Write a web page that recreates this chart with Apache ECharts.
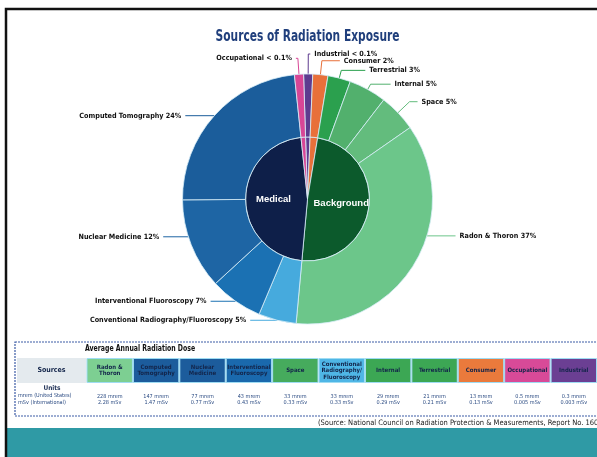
<!DOCTYPE html>
<html>
<head>
<meta charset="utf-8">
<title>Sources of Radiation Exposure</title>
<script src="https://cdn.jsdelivr.net/npm/echarts@6/dist/echarts.min.js"></script>
<style>
html, body { margin: 0; padding: 0; background: #fff; }
#chart { width: 597px; height: 457px; }
</style>
</head>
<body>
<div id="chart"></div>
<script>
// outer ring, clockwise from the top
var outerNames = ['Industrial', 'Consumer', 'Terrestrial', 'Internal', 'Space', 'Radon & Thoron',
  'Conventional Radiography/Fluoroscopy', 'Interventional Fluoroscopy', 'Nuclear Medicine',
  'Computed Tomography', 'Occupational'];
var outerShares = [1.2, 2, 3, 5, 5, 37, 5, 7, 12, 24, 1.2];
var outerPctText = ['< 0.1%', '2%', '3%', '5%', '5%', '37%', '5%', '7%', '12%', '24%', '< 0.1%'];

// inner circle
var innerNames = ['Industrial', 'Consumer', 'Background', 'Medical', 'Occupational'];
var innerShares = [1.2, 2, 50, 48, 1.2];

// dose table
var doseSources = ['Radon & Thoron', 'Computed Tomography', 'Nuclear Medicine', 'Interventional Fluoroscopy',
  'Space', 'Conventional Radiography Fluoroscopy', 'Internal', 'Terrestrial', 'Consumer', 'Occupational', 'Industrial'];
var doseHeaderText = ['Radon &\nThoron', 'Computed\nTomography', 'Nuclear\nMedicine', 'Interventional\nFluoroscopy',
  'Space', 'Conventional\nRadiography/\nFluoroscopy', 'Internal', 'Terrestrial', 'Consumer', 'Occupational', 'Industrial'];
var doseMrem = ['228', '147', '77', '43', '33', '33', '29', '21', '13', '0.5', '0.3'];
var doseMsv = ['2.28', '1.47', '0.77', '0.43', '0.33', '0.33', '0.29', '0.21', '0.13', '0.005', '0.003'];

var outerColors = ['#5e3b8f', '#e8703a', '#2ba04e', '#52b06d', '#63bc7d', '#6cc68a',
  '#46aadd', '#1b71b3', '#1e65a4', '#1b5d9b', '#d84696'];
var innerColors = ['#5e3b8f', '#e8703a', '#0c5a2c', '#0e1f49', '#d84696'];
var doseColors = ['#7dcf92', '#1c5c9c', '#1c5c9c', '#1a69ad', '#46ab5d', '#4fb6e6',
  '#3ca754', '#3ca754', '#ea7a3c', '#d84a98', '#6b3f93'];

var CX = 307.5, CY = 199, R_IN = 62, R_OUT = 125;
var NARROW = "'Liberation Sans Narrow', 'DejaVu Sans Condensed', 'Liberation Sans', sans-serif";
var labelLen1 = [20, 14, 8, 6, 16, 0, 0, 0, 0, 0, 16];
var labelLen2 = [2, 18, 24, 20, 8, 40, 27, 25, 28, 29, 2];
var labelShift = { 'Radon & Thoron': -26, 'Nuclear Medicine': -8 };

var chart = echarts.init(document.getElementById('chart'));

var option = {
  animation: false,
  backgroundColor: '#fff',
  grid: { left: 86.5, right: 0, top: 358, height: 25 },
  xAxis: {
    type: 'category',
    data: doseSources,
    axisLine: { show: false },
    axisTick: { show: false },
    axisLabel: {
      interval: 0,
      margin: 10,
      fontSize: 5.5,
      lineHeight: 6.5,
      color: '#2a4a82',
      fontFamily: NARROW,
      formatter: function (v, i) {
        return doseMrem[i] + ' mrem\n' + doseMsv[i] + ' mSv';
      }
    }
  },
  yAxis: { type: 'value', min: 0, max: 1, show: false },
  series: [
    {
      type: 'bar',
      barCategoryGap: '0%',
      data: doseSources.map(function (n, i) {
        return { value: 1, itemStyle: { color: doseColors[i] } };
      }),
      itemStyle: { borderColor: '#9fdcf3', borderWidth: 1 },
      label: {
        show: true,
        position: 'inside',
        formatter: function (p) { return doseHeaderText[p.dataIndex]; },
        fontSize: 6,
        lineHeight: 6.5,
        fontWeight: 'bold',
        color: '#13254a',
        fontFamily: NARROW
      }
    },
    {
      type: 'pie',
      center: [CX, CY],
      radius: [0, R_IN],
      startAngle: 91.8,
      clockwise: true,
      avoidLabelOverlap: false,
      itemStyle: { borderColor: '#d7eef7', borderWidth: 0.8 },
      label: {
        position: 'inner',
        color: '#fff',
        fontSize: 9.5,
        fontWeight: 'bold',
        fontFamily: "'Liberation Sans', sans-serif",
        formatter: function (p) {
          return (p.name === 'Medical' || p.name === 'Background') ? p.name : '';
        }
      },
      labelLine: { show: false },
      data: innerNames.map(function (n, i) {
        return { name: n, value: innerShares[i], itemStyle: { color: innerColors[i] } };
      })
    },
    {
      type: 'pie',
      center: [CX, CY],
      radius: [R_IN, R_OUT],
      startAngle: 91.8,
      clockwise: true,
      avoidLabelOverlap: false,
      itemStyle: { borderColor: '#d7eef7', borderWidth: 0.8 },
      label: {
        position: 'outside',
        color: '#111',
        fontSize: 7.2,
        fontWeight: 'bold',
        fontFamily: NARROW,
        distanceToLabelLine: 4,
        formatter: function (p) { return p.name + ' ' + outerPctText[p.dataIndex]; }
      },
      labelLine: { show: true, lineStyle: { width: 1 } },
      labelLayout: function (p) {
        var s = labelShift[outerNames[p.dataIndex]];
        if (!s) return {};
        var pts = p.labelLinePoints;
        var y = pts[2][1] + s;
        var side = pts[2][0] > CX ? 1 : -1;
        var x0 = CX + side * Math.sqrt(R_OUT * R_OUT - (y - CY) * (y - CY));
        return { dy: s, labelLinePoints: [[x0, y], [x0, y], [pts[2][0], y]] };
      },
      data: outerNames.map(function (n, i) {
        return {
          name: n,
          value: outerShares[i],
          itemStyle: { color: outerColors[i] },
          labelLine: { length: labelLen1[i], length2: labelLen2[i] }
        };
      })
    }
  ],
  graphic: [
    { type: 'rect', z: 0, shape: { x: 6, y: 428, width: 600, height: 40 }, style: { fill: '#2f9aa5' } },
    { type: 'rect', z: 0, shape: { x: 15, y: 342, width: 600, height: 74 },
      style: { fill: null, stroke: '#3d5ca6', lineWidth: 1.2, lineDash: [2, 1] } },
    { type: 'rect', z: 0, shape: { x: 17, y: 358, width: 69.5, height: 25 }, style: { fill: '#e4eaee' } },
    { type: 'text', z: 5, x: 51.5, y: 370.5,
      style: { text: 'Sources', fill: '#13254a', fontSize: 7, fontWeight: 'bold', fontFamily: NARROW,
        align: 'center', verticalAlign: 'middle' } },
    { type: 'text', z: 5, x: 52, y: 388,
      style: { text: 'Units', fill: '#1d2f55', fontSize: 6.5, fontWeight: 'bold', fontFamily: NARROW,
        align: 'center', verticalAlign: 'middle' } },
    { type: 'text', z: 5, x: 18, y: 396,
      style: { text: 'mrem (United States)', fill: '#2a4a82', fontSize: 5.5, fontFamily: NARROW,
        align: 'left', verticalAlign: 'middle' } },
    { type: 'text', z: 5, x: 18, y: 402.5,
      style: { text: 'mSv (International)', fill: '#2a4a82', fontSize: 5.5, fontFamily: NARROW,
        align: 'left', verticalAlign: 'middle' } },
    { type: 'text', z: 5, x: 307.5, y: 37, scaleX: 0.79,
      style: { text: 'Sources of Radiation Exposure', fill: '#203f7c', fontSize: 15, fontWeight: 'bold',
        fontFamily: NARROW, align: 'center', verticalAlign: 'middle' } },
    { type: 'text', z: 5, x: 85, y: 349, scaleX: 0.86,
      style: { text: 'Average Annual Radiation Dose', fill: '#111', fontSize: 8, fontWeight: 'bold',
        fontFamily: NARROW, align: 'left', verticalAlign: 'middle' } },
    { type: 'text', z: 5, x: 601, y: 423,
      style: { text: '(Source: National Council on Radiation Protection & Measurements, Report No. 160)',
        fill: '#222', fontSize: 7.5, fontFamily: NARROW, align: 'right', verticalAlign: 'middle' } },
    { type: 'rect', z: 100, shape: { x: 6, y: 9, width: 620, height: 470 },
      style: { fill: null, stroke: '#111', lineWidth: 2.5 } }
  ]
};

chart.setOption(option);
</script>
</body>
</html>
